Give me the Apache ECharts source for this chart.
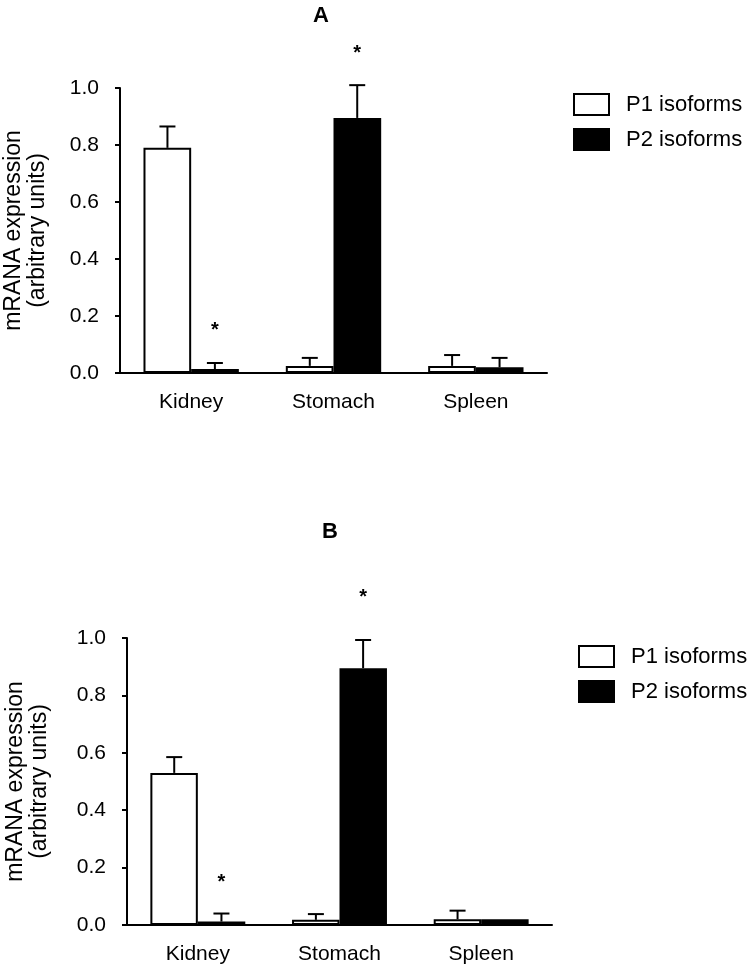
<!DOCTYPE html>
<html>
<head>
<meta charset="utf-8">
<script src="https://cdn.jsdelivr.net/npm/echarts@6/dist/echarts.min.js"></script>
<style>
  html, body { margin: 0; padding: 0; background: #fff; }
  #chart { width: 750px; height: 965px; }
</style>
</head>
<body>
<div id="chart"></div>
<script>
// tissues on the x axis
const categories = ['Kidney', 'Stomach', 'Spleen']

// panel A
const aP1 = [0.79, 0.025, 0.025]
const aP1Err = [0.075, 0.028, 0.038]
const aP2 = [0.014, 0.895, 0.02]
const aP2Err = [0.021, 0.115, 0.033]
const aP2Star = [0.168, 1.14, null]

// panel B
const bP1 = [0.53, 0.018, 0.02]
const bP1Err = [0.055, 0.02, 0.03]
const bP2 = [0.012, 0.895, 0.02]
const bP2Err = [0.028, 0.098, 0]
const bP2Star = [0.167, 1.16, null]

const yTicks = [0, 0.2, 0.4, 0.6, 0.8, 1.0]

const font = 'Liberation Sans, Arial, sans-serif'

// error bar (one sided, upward) + optional asterisk, shifted to the bar's slot
function errorSeries(name, axisIdx, vals, errs, stars, side) {
  return {
    type: 'custom',
    name: name,
    xAxisIndex: axisIdx,
    yAxisIndex: axisIdx,
    clip: false,
    silent: true,
    z: 5,
    data: vals.map((v, i) => [i, v, errs[i], stars ? stars[i] : null]),
    renderItem(params, api) {
      const band = api.size([1, 0])[0]
      const shift = side * band / 6
      const base = api.coord([api.value(0), api.value(1)])
      const top = api.coord([api.value(0), api.value(1) + api.value(2)])
      const x = base[0] + shift
      const children = []
      if (api.value(2) > 0) {
        children.push({
          type: 'line',
          shape: { x1: x, y1: base[1], x2: x, y2: top[1] },
          style: { stroke: '#000', lineWidth: 2 }
        })
        children.push({
          type: 'line',
          shape: { x1: x - 8, y1: top[1], x2: x + 8, y2: top[1] },
          style: { stroke: '#000', lineWidth: 2 }
        })
      }
      const star = api.value(3)
      if (star !== null && !isNaN(star)) {
        const p = api.coord([api.value(0), star])
        children.push({
          type: 'text',
          x: x,
          y: p[1] + 5,
          style: {
            text: '*',
            fontSize: 20,
            fontWeight: 'bold',
            fontFamily: font,
            fill: '#000',
            align: 'center',
            verticalAlign: 'middle'
          }
        })
      }
      return { type: 'group', children: children }
    }
  }
}

function barSeries(name, axisIdx, vals, filled) {
  return {
    type: 'bar',
    name: name,
    xAxisIndex: axisIdx,
    yAxisIndex: axisIdx,
    barGap: '0%',
    barCategoryGap: '33%',
    data: vals,
    itemStyle: filled
      ? { color: '#000', borderColor: '#000', borderWidth: 2 }
      : { color: '#fff', borderColor: '#000', borderWidth: 2 }
  }
}

function yAxisCfg(idx, gap) {
  return {
    type: 'value',
    gridIndex: idx,
    min: 0,
    max: 1,
    interval: 0.2,
    name: 'mRANA expression\n(arbitrary units)',
    nameLocation: 'middle',
    nameRotate: 90,
    nameGap: gap,
    nameTextStyle: { fontSize: 23, color: '#000', fontFamily: font, lineHeight: 24 },
    axisLine: { show: true, lineStyle: { color: '#000', width: 2 } },
    axisTick: { show: true, length: 5, lineStyle: { color: '#000', width: 2 } },
    axisLabel: {
      fontSize: 21,
      color: '#000',
      fontFamily: font,
      margin: 21,
      formatter: v => yTicks.includes(Math.round(v * 10) / 10) ? v.toFixed(1) : ''
    },
    splitLine: { show: false }
  }
}

function xAxisCfg(idx) {
  return {
    type: 'category',
    gridIndex: idx,
    data: categories,
    axisLine: { show: true, lineStyle: { color: '#000', width: 2 } },
    axisTick: { show: false },
    axisLabel: { fontSize: 21, color: '#000', fontFamily: font, margin: 19 }
  }
}

function legendCfg(left, top) {
  return {
    data: ['P1 isoforms', 'P2 isoforms'],
    orient: 'vertical',
    left: left,
    top: top,
    padding: 0,
    itemWidth: 35,
    itemHeight: 21,
    itemGap: 12,
    icon: 'rect',
    selectedMode: false,
    textStyle: { fontSize: 22, color: '#000', fontFamily: font, padding: [0, 0, 0, 12] }
  }
}

const chart = echarts.init(document.getElementById('chart'))

chart.setOption({
  backgroundColor: '#fff',
  animation: false,
  title: [
    { text: 'A', left: 308, top: 0, textStyle: { fontSize: 22, fontWeight: 'bold', color: '#000', fontFamily: font } },
    { text: 'B', left: 317, top: 516, textStyle: { fontSize: 22, fontWeight: 'bold', color: '#000', fontFamily: font } }
  ],
  legend: [legendCfg(573, 93), legendCfg(578, 645)],
  grid: [
    { left: 120, right: 203, top: 88, bottom: 592, outerBoundsMode: 'none' },
    { left: 127, right: 198, top: 638, bottom: 40, outerBoundsMode: 'none' }
  ],
  xAxis: [xAxisCfg(0), xAxisCfg(1)],
  yAxis: [yAxisCfg(0, 70), yAxisCfg(1, 75)],
  series: [
    barSeries('P1 isoforms', 0, aP1, false),
    barSeries('P2 isoforms', 0, aP2, true),
    errorSeries('P1 err A', 0, aP1, aP1Err, null, -1),
    errorSeries('P2 err A', 0, aP2, aP2Err, aP2Star, 1),
    barSeries('P1 isoforms', 1, bP1, false),
    barSeries('P2 isoforms', 1, bP2, true),
    errorSeries('P1 err B', 1, bP1, bP1Err, null, -1),
    errorSeries('P2 err B', 1, bP2, bP2Err, bP2Star, 1)
  ]
})
</script>
</body>
</html>
